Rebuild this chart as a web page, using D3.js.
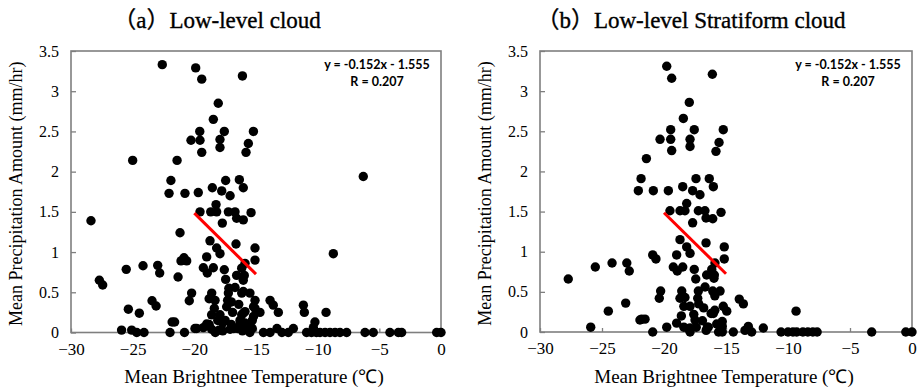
<!DOCTYPE html>
<html>
<head>
<meta charset="utf-8">
<script src="https://cdn.jsdelivr.net/npm/d3@7"></script>
<style>
  html, body { margin: 0; padding: 0; background: #fff; }
  svg { display: block; }
</style>
</head>
<body>
<svg id="chart" width="918" height="387"></svg>
<script>
// ---- data ---------------------------------------------------------------
const panelTitles = ["（a）Low-level cloud", "（b）Low-level Stratiform cloud"];
const xTickValues = [-30, -25, -20, -15, -10, -5, 0];
const xTickLabels = ["\u221230", "\u221225", "\u221220", "\u221215", "\u221210", "\u22125", "0"];
const yTickValues = [0, 0.5, 1, 1.5, 2, 2.5, 3, 3.5];
const yTickLabels = ["0", "0.5", "1", "1.5", "2", "2.5", "3", "3.5"];
const xAxisTitle = "Mean Brightnee Temperature (℃)";
const yAxisTitle = "Mean Precipitation Amount (mm/hr)";

// regression shown in both panels
const fitSlope = -0.152;
const fitIntercept = -1.555;
const fitRange = [-20, -15];
const fitLabel = "y = -0.152x - 1.555";
const corrLabel = "R = 0.207";

// (a) low-level cloud: brightness temperature (℃) and precipitation (mm/hr)
const lowTemp = [
  -22.6, -19.89, -19.4, -16.1, -18.06, -18.46, -19.56, -17.57, -15.21, -20.27, -19.54, -17.92,
  -17.92, -15.62, -15.81, -19.4, -25.0, -21.4, -21.9, -17.46, -16.35, -16.03, -18.54, -6.3,
  -22.05, -20.76, -19.68, -17.78, -17.1, -18.24, -19.54, -18.67, -18.19, -17.24, -16.7, -16.57,
  -16.03, -15.4, -17.73, -28.38, -21.16, -18.73, -18.19, -17.92, -16.62, -15.08, -15.08, -15.89,
  -19.0, -20.84, -20.62, -21.08, -8.73,
  -25.52, -24.16, -22.97, -22.81, -19.27, -18.46, -18.95, -17.57, -17.46, -16.57, -16.16, -15.95,
  -16.03, -21.32, -27.7, -27.43, -16.7, -20.22, -20.41, -18.59, -18.32, -18.8, -17.24, -17.3,
  -16.16, -15.49, -16.03, -23.43, -23.1, -25.35, -24.46, -18.38, -17.92, -17.38, -16.16, -15.89,
  -15.08, -15.08, -13.86, -13.6, -13.19, -11.16, -11.08, -9.32, -10.22, -15.2, -14.68, -16.03,
  -15.3, -21.8, -21.6, -19.81, -19.0, -17.0, -16.9, -17.7, -17.0, -16.3, -15.5,
  -25.9, -25.08, -24.67, -24.08, -21.97, -20.8, -19.95, -19.27, -18.8, -18.6, -18.3, -18.0,
  -17.7, -17.1, -16.5, -16.3, -16.1, -15.7, -15.5, -15.3,
  -14.4, -13.86, -13.3, -12.9, -12.38, -11.97, -10.9, -10.5, -10.35, -10.1, -9.81, -9.4,
  -9.0, -8.59, -8.19, -7.65, -6.16, -5.49, -4.14, -3.46, -3.19, -0.35, 0,
  -17.5, -16.8, -15.9, -16.4, -18.1, -15.2, -17.2, -18.6
];
const lowPrecip = [
  3.33, 3.29, 3.15, 3.19, 2.85, 2.65, 2.50, 2.50, 2.50, 2.39, 2.39, 2.40,
  2.30, 2.35, 2.24, 2.24, 2.14, 2.14, 1.89, 1.89, 1.90, 1.80, 1.80, 1.94,
  1.73, 1.73, 1.74, 1.76, 1.70, 1.59, 1.50, 1.50, 1.50, 1.50, 1.50, 1.42,
  1.40, 1.49, 1.36, 1.39, 1.24, 1.14, 1.05, 0.98, 1.10, 1.05, 0.90, 0.86,
  0.94, 0.93, 0.89, 0.89, 0.98,
  0.785, 0.83, 0.835, 0.74, 0.805, 0.805, 0.74, 0.78, 0.66, 0.71, 0.80, 0.71,
  0.65, 0.69, 0.65, 0.59, 0.56, 0.49, 0.395, 0.49, 0.40, 0.42, 0.49, 0.40,
  0.49, 0.49, 0.51, 0.395, 0.33, 0.29, 0.24, 0.30, 0.22, 0.32, 0.22, 0.26,
  0.30, 0.40, 0.40, 0.34, 0.25, 0.34, 0.25, 0.25, 0.13, 0.32, 0.25, 0.24,
  0.15, 0.13, 0.13, 0.05, 0.105, 0.38, 0.25, 0.12, 0.10, 0.15, 0.10,
  0.03, 0.03, 0, 0, 0, 0, 0.05, 0.06, 0.10, 0.04, 0, 0.03,
  0.02, 0.04, 0.05, 0.10, 0.02, 0.05, 0, 0.05,
  0, 0, 0.05, 0, 0, 0.05, 0, 0, 0.06, 0, 0, 0,
  0, 0, 0, 0, 0, 0, 0, 0, 0, 0, 0,
  0.15, 0.05, 0.12, 0.35, 0.15, 0.20, 0.55, 0.22
];

// (b) low-level stratiform cloud
const stratTemp = [
  -19.78, -19.38, -16.1, -17.96, -18.44, -19.46, -17.56, -15.22, -20.32, -19.46, -17.9, -17.9,
  -15.56, -15.81, -19.38, -21.42, -21.85, -17.42, -16.35, -16.02, -18.49, -22.07, -20.86, -19.65,
  -17.69, -17.1, -18.17, -19.52, -18.71, -18.31, -17.23, -16.7, -16.61, -16.07, -15.4, -17.69,
  -27.72, -25.54, -24.19, -23.0, -22.8, -20.91, -20.65, -18.71, -18.17, -17.9, -18.98, -16.61,
  -15.14, -15.14, -15.89, -19.25, -18.49, -18.93, -17.56, -17.44, -16.56, -16.15, -15.94, -15.97,
  -16.69, -20.27, -20.38, -18.57, -18.31, -18.71, -17.23, -17.28, -16.07, -15.48, -23.09, -24.49,
  -21.8, -21.53, -25.91, -20.91, -19.78, -18.98,
  -18.4, -17.9, -17.6, -17.2, -16.2, -15.9, -15.22, -14.94, -16.02, -15.3, -15.3, -15.3,
  -13.93, -13.6, -9.35, -16.9, -16.5, -18.4, -17.9, -17.4, -17.9, -15.6,
  -14.41, -13.47, -13.2, -12.93, -11.99, -10.56, -10.0, -9.6, -9.3, -8.8, -8.4, -8.0,
  -7.65, -3.25, -0.5, 0, -18.04, -16.43, -15.75, -21.94,
  -17.5, -16.8, -18.6, -15.9, -16.6
];
const stratPrecip = [
  3.31, 3.16, 3.21, 2.86, 2.66, 2.52, 2.52, 2.52, 2.40, 2.40, 2.40, 2.31,
  2.36, 2.25, 2.26, 2.16, 1.91, 1.91, 1.91, 1.81, 1.81, 1.76, 1.76, 1.76,
  1.76, 1.71, 1.60, 1.51, 1.51, 1.51, 1.51, 1.51, 1.42, 1.41, 1.49, 1.36,
  0.66, 0.81, 0.86, 0.86, 0.76, 0.96, 0.91, 1.15, 1.06, 0.98, 0.96, 1.11,
  1.06, 0.91, 0.86, 0.81, 0.81, 0.76, 0.78, 0.66, 0.71, 0.78, 0.71, 0.67,
  0.56, 0.51, 0.42, 0.51, 0.43, 0.42, 0.51, 0.42, 0.51, 0.51, 0.36, 0.26,
  0.16, 0.16, 0.06, 0.0, 0.06, 0.11,
  0.32, 0.32, 0.22, 0.35, 0.23, 0.27, 0.32, 0.26, 0.23, 0.13, 0.07, 0,
  0.41, 0.35, 0.26, 0.14, 0.06, 0.06, 0.05, 0.06, 0.0, 0.0,
  0, 0.02, 0.07, 0, 0.05, 0, 0, 0, 0, 0, 0, 0,
  0, 0, 0, 0, 0.04, 0.06, 0.10, 0.15,
  0.15, 0.30, 0.20, 0.45, 0.02
];

// ---- layout -------------------------------------------------------------
const panels = [
  { title: panelTitles[0], temp: lowTemp, precip: lowPrecip,
    left: 71, right: 441, top: 51, bottom: 332.5, titleX: 217, ylabX: 22 },
  { title: panelTitles[1], temp: stratTemp, precip: stratPrecip,
    left: 540, right: 912, top: 51, bottom: 332, titleX: 691, ylabX: 491 }
];

const svg = d3.select("#chart");
const serif = "'Liberation Serif', 'Times New Roman', serif";
const frameColor = "#7f7f7f";

panels.forEach(p => {
  const x = d3.scaleLinear().domain([-30, 0]).range([p.left, p.right]);
  const y = d3.scaleLinear().domain([0, 3.5]).range([p.bottom, p.top]);
  const g = svg.append("g");

  // title
  g.append("text")
    .attr("x", p.titleX).attr("y", 28)
    .attr("text-anchor", "middle")
    .style("font-family", serif + ", 'Noto Sans CJK KR'")
    .style("font-size", "23px")
    .attr("stroke", "#000").attr("stroke-width", 0.35)
    .text(p.title);

  // y axis, ticks pointing inward
  const yAxis = d3.axisLeft(y)
    .tickValues(yTickValues)
    .tickFormat((d, i) => yTickLabels[i])
    .tickSizeInner(-5).tickSizeOuter(0).tickPadding(12);
  const ya = g.append("g").attr("transform", `translate(${p.left},0)`).call(yAxis);
  ya.select(".domain").remove();
  ya.selectAll(".tick line").attr("stroke", frameColor).attr("stroke-width", 1.3);
  ya.selectAll(".tick text")
    .style("font-family", serif).style("font-size", "16px").attr("fill", "#000");

  // x axis, ticks pointing inward
  const xAxis = d3.axisBottom(x)
    .tickValues(xTickValues)
    .tickFormat((d, i) => xTickLabels[i])
    .tickSizeInner(-4).tickSizeOuter(0).tickPadding(10);
  const xa = g.append("g").attr("transform", `translate(0,${p.bottom})`).call(xAxis);
  xa.select(".domain").remove();
  xa.selectAll(".tick line").attr("stroke", frameColor).attr("stroke-width", 1.3);
  xa.selectAll(".tick text")
    .style("font-family", serif).style("font-size", "17px").attr("fill", "#000");

  // plot frame
  g.append("rect")
    .attr("x", p.left).attr("y", p.top)
    .attr("width", p.right - p.left).attr("height", p.bottom - p.top)
    .attr("fill", "none").attr("stroke", frameColor).attr("stroke-width", 1.6);

  // axis titles
  g.append("text")
    .attr("x", (p.left + p.right) / 2 - 2).attr("y", 383)
    .attr("text-anchor", "middle")
    .style("font-family", serif).style("font-size", "19px")
    .text(xAxisTitle);
  g.append("text")
    .attr("transform", `translate(${p.ylabX},${(p.top + p.bottom) / 2 + 2}) rotate(-90)`)
    .attr("text-anchor", "middle")
    .style("font-family", serif).style("font-size", "18px")
    .text(yAxisTitle);

  // points
  g.append("g").selectAll("circle")
    .data(p.temp.map((t, i) => [t, p.precip[i]]))
    .join("circle")
    .attr("cx", d => x(d[0]))
    .attr("cy", d => y(d[1]))
    .attr("r", 4.7)
    .attr("fill", "#000");

  // regression line
  g.append("line")
    .attr("x1", x(fitRange[0])).attr("y1", y(fitSlope * fitRange[0] + fitIntercept))
    .attr("x2", x(fitRange[1])).attr("y2", y(fitSlope * fitRange[1] + fitIntercept))
    .attr("stroke", "#ff0000").attr("stroke-width", 3);

  // equation annotation
  const eqX = p.right - 64;
  g.append("text")
    .attr("x", eqX).attr("y", 69)
    .attr("text-anchor", "middle")
    .style("font-family", "Lato, 'Open Sans', sans-serif")
    .style("font-weight", "bold").style("font-size", "12.5px")
    .text(fitLabel);
  g.append("text")
    .attr("x", eqX).attr("y", 86)
    .attr("text-anchor", "middle")
    .style("font-family", "Lato, 'Open Sans', sans-serif")
    .style("font-weight", "bold").style("font-size", "12.5px")
    .text(corrLabel);
});
</script>
</body>
</html>
